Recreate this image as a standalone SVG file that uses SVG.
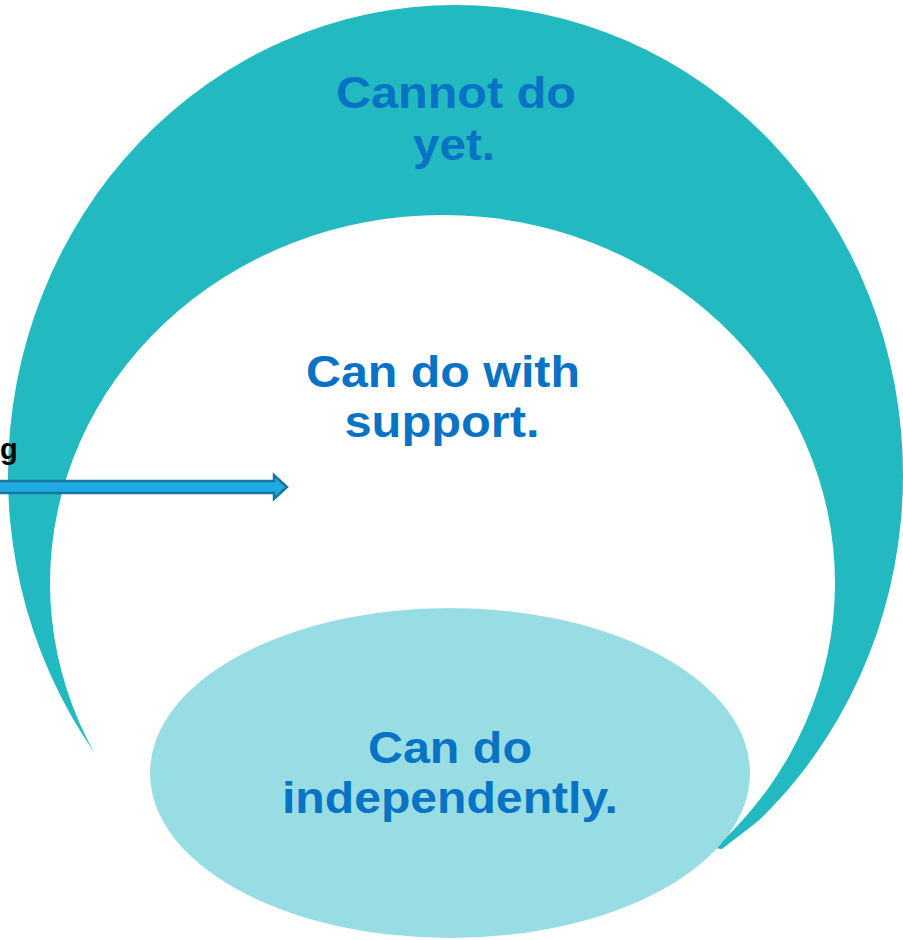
<svg xmlns="http://www.w3.org/2000/svg" width="903" height="940" viewBox="0 0 903 940">
<style>
.t{font-family:"Liberation Sans",Arial,sans-serif;font-weight:bold;font-size:44px;fill:#0872C4;text-anchor:middle}
.g{font-family:"Liberation Sans",Arial,sans-serif;font-weight:bold;font-size:29px;fill:#000}
</style>
<rect width="903" height="940" fill="#fff"/>
<g id="cannot">
<ellipse cx="455.5" cy="475" rx="447.5" ry="470" fill="#23B9C1"/>
<text class="t" x="456" y="108" textLength="240" lengthAdjust="spacingAndGlyphs">Cannot do</text>
<text class="t" x="454" y="160" textLength="82" lengthAdjust="spacingAndGlyphs">yet.</text>
</g>
<g id="support">
<ellipse cx="442.5" cy="583" rx="392.5" ry="368" fill="#fff"/>
<polygon points="0,762 95,762 722,849 766,815 903,815 903,940 0,940" fill="#fff"/>
<text class="t" x="443" y="387" textLength="274" lengthAdjust="spacingAndGlyphs">Can do with</text>
<text class="t" x="442" y="437" textLength="195" lengthAdjust="spacingAndGlyphs">support.</text>
</g>
<g id="independent">
<ellipse cx="450" cy="773" rx="300" ry="165" fill="#98DDE3"/>
<text class="t" x="450" y="763" textLength="164" lengthAdjust="spacingAndGlyphs">Can do</text>
<text class="t" x="450" y="813" textLength="336" lengthAdjust="spacingAndGlyphs">independently.</text>
</g>
<g id="label">
<text class="g" x="0" y="459">g</text>
</g>
<g id="connectors">
<polygon points="-2,481 274,481 274,475 287,487 274,499 274,493 -2,493" fill="#1FA9E1" stroke="#1777A0" stroke-width="2.5" stroke-linejoin="miter"/>
</g>
</svg>
